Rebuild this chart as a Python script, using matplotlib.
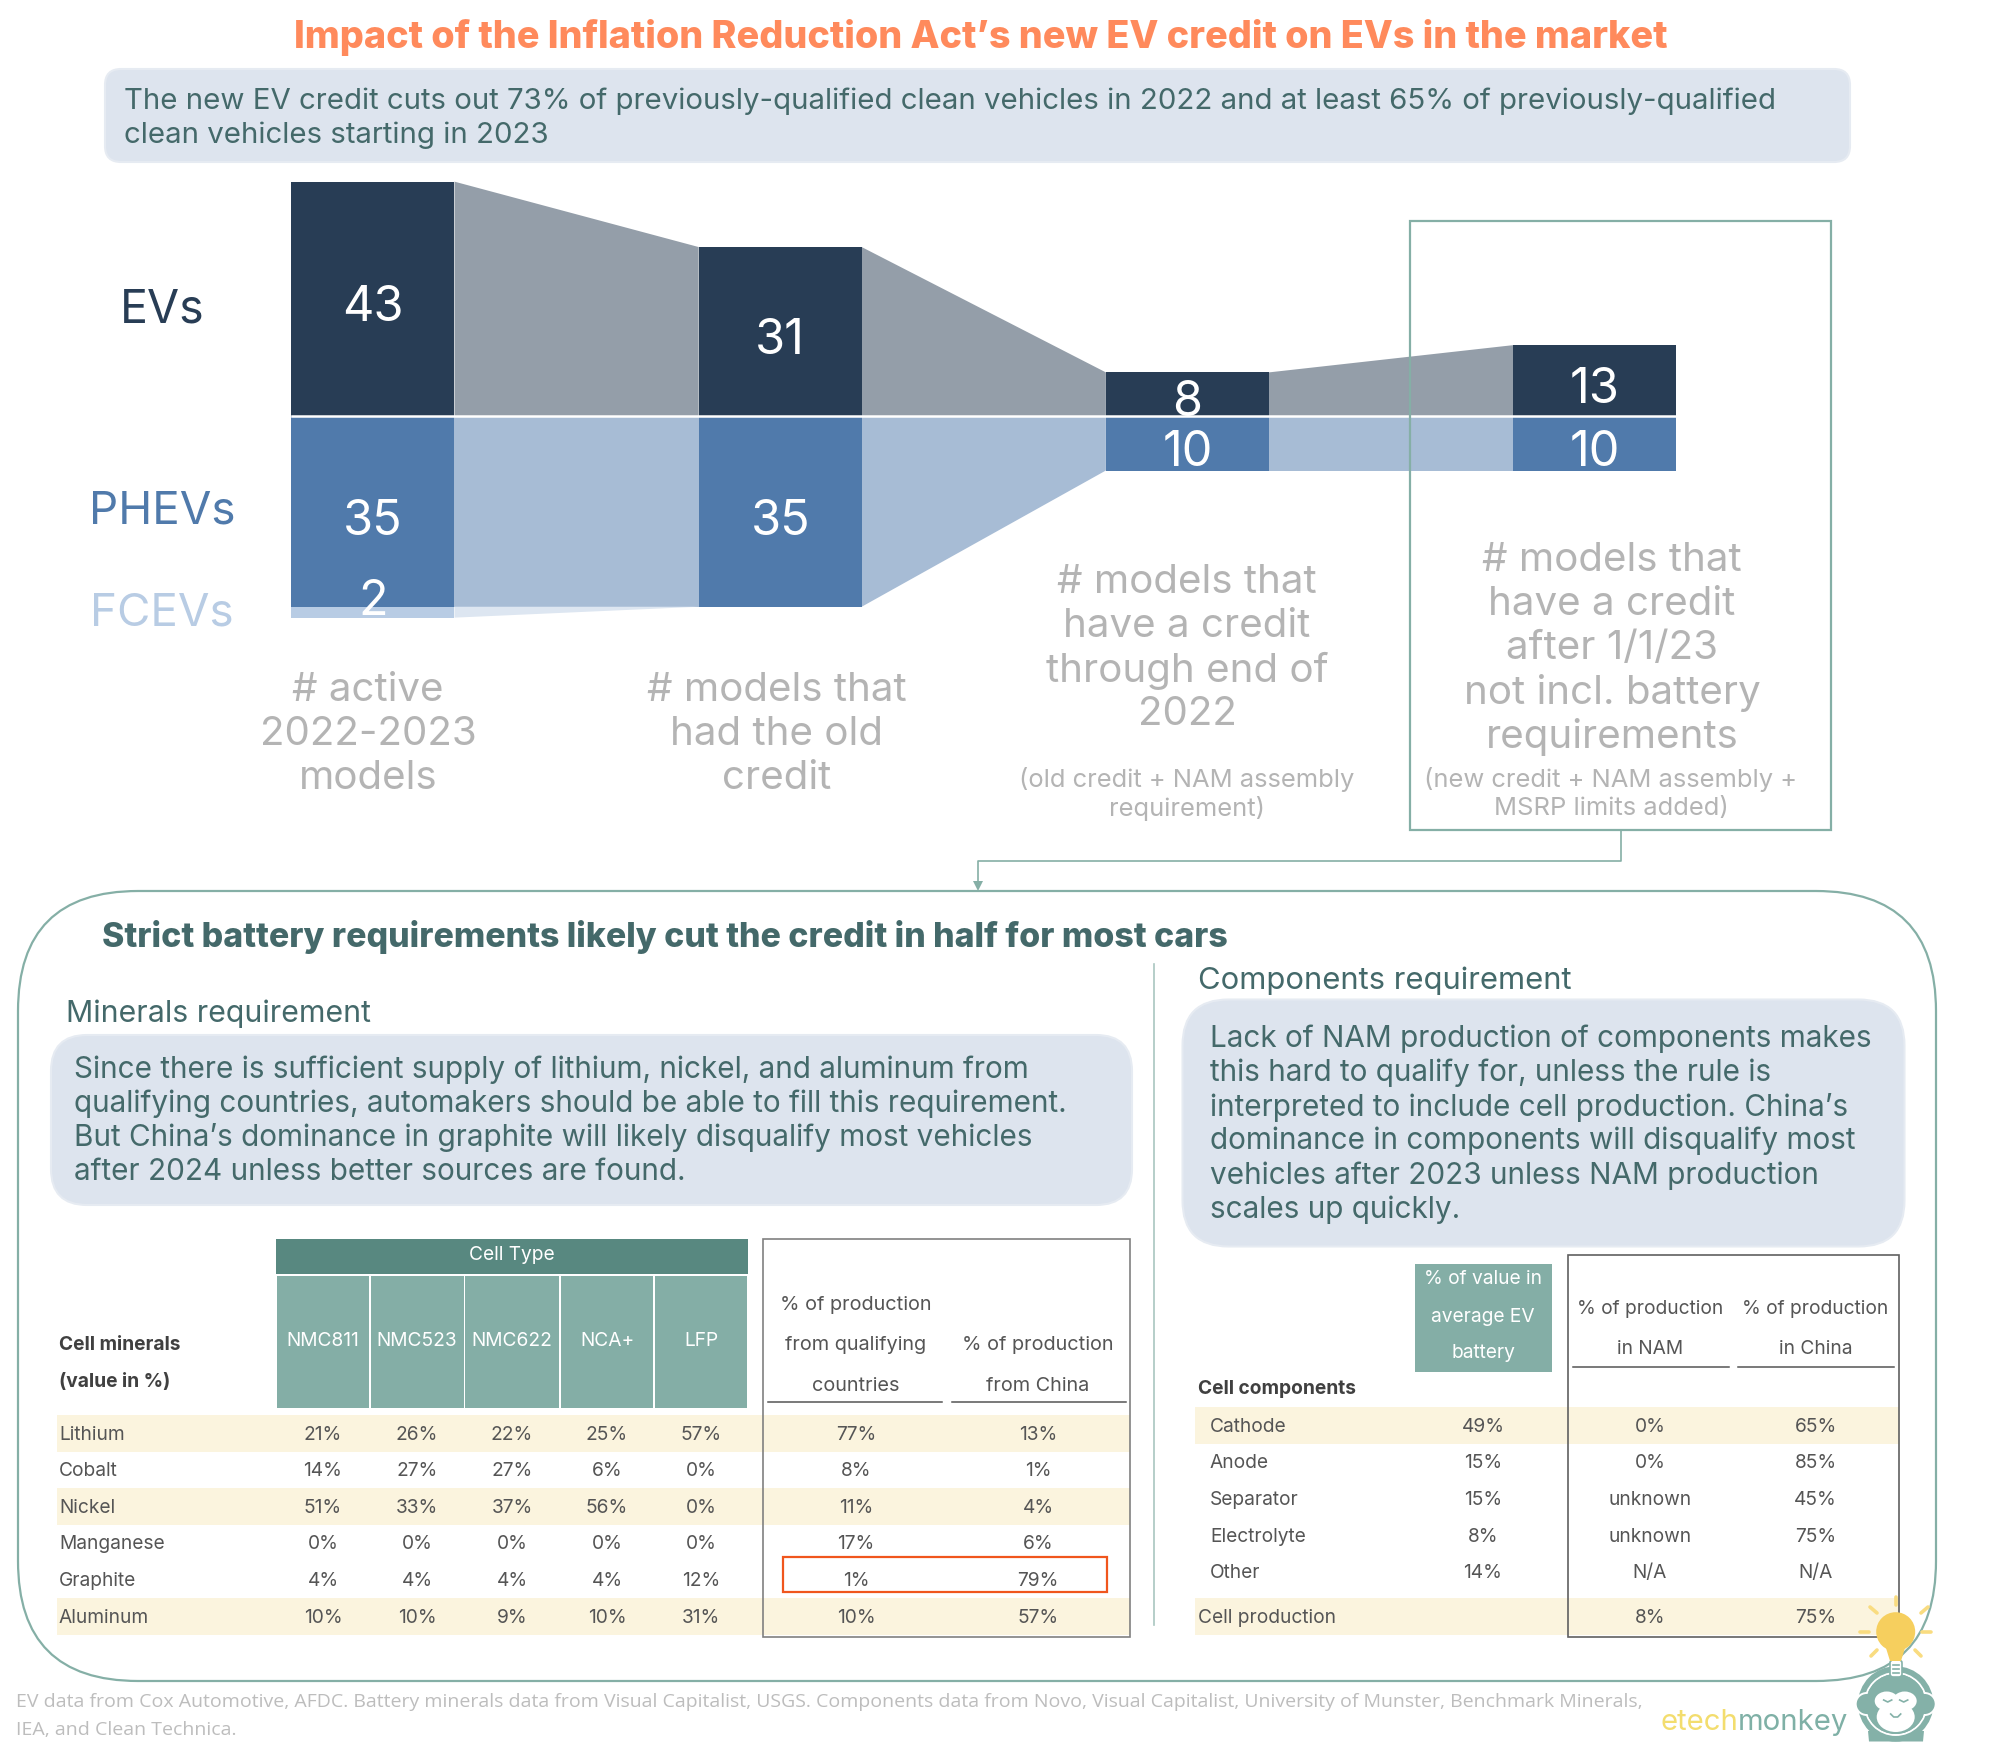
import matplotlib
matplotlib.use("Agg")
import matplotlib.pyplot as plt
from matplotlib.patches import FancyBboxPatch, Rectangle, Circle, Ellipse, Polygon

# ---------- data ----------
stages = ["# active\n2022-2023\nmodels", "# models that\nhad the old\ncredit",
          "# models that\nhave a credit\nthrough end of\n2022",
          "# models that\nhave a credit\nafter 1/1/23\nnot incl. battery\nrequirements"]
stage_notes = ["", "", "(old credit + NAM assembly\nrequirement)", "(new credit + NAM assembly +\nMSRP limits added)"]
ev_counts = [43, 31, 8, 13]
phev_counts = [35, 35, 10, 10]
fcev_counts = [2, 0, 0, 0]
cell_types = ["NMC811", "NMC523", "NMC622", "NCA+", "LFP"]
minerals = ["Lithium", "Cobalt", "Nickel", "Manganese", "Graphite", "Aluminum"]
nmc811 = ["21%", "14%", "51%", "0%", "4%", "10%"]
nmc523 = ["26%", "27%", "33%", "0%", "4%", "10%"]
nmc622 = ["22%", "27%", "37%", "0%", "4%", "9%"]
ncaplus = ["25%", "6%", "56%", "0%", "4%", "10%"]
lfp = ["57%", "0%", "0%", "0%", "12%", "31%"]
qualifying = ["77%", "8%", "11%", "17%", "1%", "10%"]
from_china = ["13%", "1%", "4%", "6%", "79%", "57%"]
components = ["Cathode", "Anode", "Separator", "Electrolyte", "Other", "Cell production"]
value_share = ["49%", "15%", "15%", "8%", "14%", ""]
in_nam = ["0%", "0%", "unknown", "unknown", "N/A", "8%"]
in_china = ["65%", "85%", "45%", "75%", "N/A", "75%"]

# ---------- colours ----------
ORANGE = "#FF8A5C"; TEAL = "#44696A"; BOX = "#DDE4EE"; DARK = "#283D55"; BLUE = "#507AAB"
FLOW_D = "#949EA9"; FLOW_B = "#A7BCD5"; FCEV = "#B8CCE4"; GREY = "#B4B4B4"; FRAME = "#85AFA6"
HEAD_D = "#588880"; HEAD_L = "#84AEA6"; BAND = "#FBF4DE"; TXT = "#555555"; RED = "#F0561D"
FOOT = "#BDBDBD"; YEL = "#F6CF5E"; RAY = "#F9DC80"; LOGO = "#84B1A8"
FONT = "Inter"

W, H = 2000, 1756
fig = plt.figure(figsize=(W / 100, H / 100), dpi=100, facecolor="white")
bg = fig.add_axes([0, 0, 1, 1]); bg.set_xlim(0, W); bg.set_ylim(H - 1, -1); bg.axis("off"); bg.set_zorder(2)

def T(x, y, s, size, color=TEAL, ha="left", weight="normal", family=FONT, z=5):
    return bg.text(x, y + 0.5, s, fontsize=size, color=color, ha=ha, va="center", fontweight=weight,
                   family=family, zorder=z)

def RB(x0, y0, x1, y1, r, fc, ec="none", lw=1.0, z=1):
    bg.add_patch(FancyBboxPatch((x0 + r, y0 + r), x1 - x0 - 2 * r, y1 - y0 - 2 * r,
                                boxstyle=f"round,pad={r},rounding_size={r}", fc=fc, ec=ec, lw=lw, zorder=z))

def R(x0, y0, x1, y1, fc="none", ec="none", lw=1.0, z=2):
    bg.add_patch(Rectangle((x0, y0), x1 - x0, y1 - y0, fc=fc, ec=ec, lw=lw, zorder=z))

# ---------- header ----------
T(981, 36, "Impact of the Inflation Reduction Act’s new EV credit on EVs in the market", 27.2, ORANGE, "center", 800)
RB(105, 69, 1850, 162, 16, BOX, "#E6EBF2", 1.5)
T(124, 100, "The new EV credit cuts out 73% of previously-qualified clean vehicles in 2022 and at least 65% of previously-qualified", 21.2)
T(124, 134, "clean vehicles starting in 2023", 21.2)

# ---------- funnel (own axes, in model counts) ----------
UNIT = 5.45                       # px per model
base_y, left_px, step_px, bar_px = 417, 373, 407.2, 163
top_c, bot_c = base_y / UNIT, (H - base_y) / UNIT
fx = fig.add_axes([0, 0, 1, 1]); fx.axis("off"); fx.patch.set_alpha(0); fx.set_zorder(1)
fx.set_xlim(-left_px / step_px, (W - left_px) / step_px)
fx.set_ylim(-bot_c, top_c)
bw = bar_px / step_px
xs = list(range(len(stages)))
phev_fc = [p + f for p, f in zip(phev_counts, fcev_counts)]
for i in xs[:-1]:
    xa, xb = i + bw / 2, i + 1 - bw / 2
    fx.fill([xa, xb, xb, xa], [ev_counts[i], ev_counts[i + 1], 0, 0], color=FLOW_D, lw=0, zorder=1)
    fx.fill([xa, xb, xb, xa], [0, 0, -phev_counts[i + 1], -phev_counts[i]], color=FLOW_B, lw=0, zorder=1)
fx.fill([bw / 2, 1 - bw / 2, bw / 2], [-phev_counts[0], -phev_counts[1], -phev_fc[0]], color="#DDE6F1", lw=0, zorder=1)
fx.bar(xs, ev_counts, bw, color=DARK, zorder=2)
fx.bar(xs, [-p for p in phev_counts], bw, color=BLUE, zorder=2)
fx.bar(xs, [-f for f in fcev_counts], bw, bottom=[-p for p in phev_counts], color=FCEV, zorder=2)
fx.axhline(0, color="white", lw=1.8, zorder=3, xmin=(left_px - bar_px / 2) / W, xmax=(left_px + 3 * step_px + bar_px / 2) / W)
V = 35
val_y = [(306, 520), (339, 520), (401, 451), (388, 451)]
for i in xs:
    cx = left_px + i * step_px
    T(cx, val_y[i][0], str(ev_counts[i]), V, "white", "center", z=8)
    T(cx, val_y[i][1], str(phev_counts[i]), V, "white", "center", z=8)
T(left_px, 600, str(fcev_counts[0]), V, "white", "center", z=8)

T(162, 309, "EVs", 33.5, DARK, "center")
T(162, 510, "PHEVs", 33, BLUE, "center")
T(162, 612, "FCEVs", 33, FCEV, "center")

lab_pos = [(368, [689, 733, 777]), (777, [689, 733, 777]), (1187, [581, 625, 669, 713]),
           (1612, [559, 603, 647, 691, 735])]
for (cx, ys), s in zip(lab_pos, stages):
    for y, line in zip(ys, s.split("\n")):
        T(cx, y, line, 29, GREY, "center")
for cx, s in zip([1187, 1611], stage_notes[2:]):
    for y, line in zip([778, 807], s.split("\n")):
        T(cx, y, line, 18.4, GREY, "center")

R(1409.5, 220.5, 1831, 830, ec=FRAME, lw=1.6, z=9)
bg.plot([1621, 1621, 978, 978], [830, 861, 861, 882], color=FRAME, lw=1.2, zorder=3)
bg.add_patch(Polygon([(973, 881), (983, 881), (978, 891)], fc=FRAME, ec="none", zorder=3))

# ---------- lower panel ----------
RB(18, 891, 1936, 1681, 120, "none", FRAME, 1.6, z=1)
T(102, 936, "Strict battery requirements likely cut the credit in half for most cars", 24.4, TEAL, "left", 800)
bg.plot([1154, 1154], [964, 1625], color="#A9C6C0", lw=1.2, zorder=2)

T(66, 1012, "Minerals requirement", 21.8)
RB(51, 1035, 1132, 1205, 36, BOX, "#E6EBF2", 1.5)
for y, line in zip([1068.5, 1102.5, 1136.5, 1171], [
    "Since there is sufficient supply of lithium, nickel, and aluminum from",
    "qualifying countries, automakers should be able to fill this requirement.",
    "But China’s dominance in graphite will likely disqualify most vehicles",
    "after 2024 unless better sources are found."]):
    T(74.5, y, line, 21.4)

T(1197.5, 979.5, "Components requirement", 22.3)
RB(1182.5, 999.5, 1904.5, 1246.5, 46, BOX, "#E6EBF2", 1.5)
for y, line in zip([1037.5, 1071.5, 1105.5, 1139.5, 1174.5, 1208.5], [
    "Lack of NAM production of components makes", "this hard to qualify for, unless the rule is",
    "interpreted to include cell production. China’s", "dominance in components will disqualify most",
    "vehicles after 2023 unless NAM production", "scales up quickly."]):
    T(1210, y, line, 21.4)

# minerals table
S = 13.8
row_y = [1433, 1469.5, 1506.2, 1543, 1579.5, 1616.2]
col_x = [323, 417, 512, 607, 701]
col_edges = [276, 370, 464.5, 560, 654, 748]
for i in (0, 2, 5):
    R(57, row_y[i] - 18.5, 1130, row_y[i] + 18.5, BAND, z=1)
R(276, 1239, 748, 1274, HEAD_D)
T(512, 1254, "Cell Type", S, "white", "center", z=5)
for k, ct in enumerate(cell_types):
    R(col_edges[k] + 0.7, 1276, col_edges[k + 1] - 0.7, 1408, HEAD_L)
    T(col_x[k], 1339, ct, S, "white", "center")
T(59, 1344, "Cell minerals", S, "#404040", weight="bold")
T(59, 1380, "(value in %)", S, "#404040", weight="bold")
for i, m in enumerate(minerals):
    T(59, row_y[i], m, S, TXT)
    for k, colv in enumerate([nmc811, nmc523, nmc622, ncaplus, lfp]):
        T(col_x[k], row_y[i], colv[i], S, TXT, "center")
    T(856, row_y[i], qualifying[i], S, TXT, "center")
    T(1038, row_y[i], from_china[i], S, TXT, "center")
R(763, 1239, 1130, 1636.5, ec="#808080", lw=1.2, z=3)
for y, line in zip([1304, 1344, 1384.5], ["% of production", "from qualifying", "countries"]):
    T(856, y, line, 14.3, TXT, "center")
for y, line in zip([1344, 1384.5], ["% of production", "from China"]):
    T(1038, y, line, 14.3, TXT, "center")
bg.plot([768, 941.5], [1402, 1402], color="#555555", lw=1.1, zorder=3)
bg.plot([952, 1126], [1402, 1402], color="#555555", lw=1.1, zorder=3)
R(783, 1556.5, 1106.5, 1592, ec=RED, lw=1.6, z=4)

# components table
row2 = [1425.5, 1462, 1498.9, 1535.2, 1571.5, 1616.2]
for i in (0, 5):
    R(1195, row2[i] - 18.5, 1899, row2[i] + 18.5, BAND, z=1)
R(1414.5, 1264, 1552, 1372, HEAD_L)
for y, line in zip([1278, 1315, 1352], ["% of value in", "average EV", "battery"]):
    T(1483, y, line, S, "white", "center")
R(1567.5, 1255, 1898.5, 1636.5, ec="#606060", lw=1.2, z=3)
for y, l1 in zip([1308, 1348], ["% of production", "in NAM"]):
    T(1650, y, l1, S, TXT, "center")
for y, l1 in zip([1308, 1348], ["% of production", "in China"]):
    T(1815.6, y, l1, S, TXT, "center")
bg.plot([1573, 1729], [1366.5, 1366.5], color="#555555", lw=1.1, zorder=3)
bg.plot([1738, 1894], [1366.5, 1366.5], color="#555555", lw=1.1, zorder=3)
T(1198.5, 1388, "Cell components", S, "#404040", weight="bold")
for i, c in enumerate(components):
    T(1210 if i < 5 else 1198.5, row2[i], c, S, TXT)
    T(1483, row2[i], value_share[i], S, TXT, "center")
    T(1650, row2[i], in_nam[i], S, TXT, "center")
    T(1815.6, row2[i], in_china[i], S, TXT, "center")

# footer
T(15.5, 1701, "EV data from Cox Automotive, AFDC. Battery minerals data from Visual Capitalist, USGS. Components data from Novo, Visual Capitalist, University of Munster, Benchmark Minerals,", 14.0, FOOT, family="Open Sans")
T(15.5, 1729, "IEA, and Clean Technica.", 14.0, FOOT, family="Open Sans")

# ---------- logo ----------
t1 = T(1660, 1721, "etech", 21.1, "#F3DD6E")
fig.canvas.draw()
ext = t1.get_window_extent().transformed(bg.transData.inverted())
T(ext.x1, 1721, "monkey", 21.1, "#7FB0A6")
Z = 12
lx, ly = 1895.7, 1704
bg.add_patch(Polygon([(1868, 1731), (1924, 1731), (1923, 1741.5), (1869, 1741.5)], fc=LOGO, ec="none", zorder=Z))
bg.add_patch(Circle((lx, ly), 37.7, fc=LOGO, ec="none", zorder=Z))
bg.add_patch(Circle((lx, ly), 31, fc="none", ec="white", lw=1.4, zorder=Z + 1))
for ex in (-29, 29):
    bg.add_patch(Circle((lx + ex, ly), 11, fc=LOGO, ec="white", lw=1.4, zorder=Z + 1))
bg.add_patch(Circle((lx, ly), 30, fc=LOGO, ec="none", zorder=Z + 1))
bg.add_patch(Ellipse((lx - 9, ly - 3), 24, 19, fc="white", ec="none", zorder=Z + 2))
bg.add_patch(Ellipse((lx + 9, ly - 3), 24, 19, fc="white", ec="none", zorder=Z + 2))
bg.add_patch(Ellipse((lx, ly + 13), 38, 30, fc="white", ec="none", zorder=Z + 2))
for ex in (-8, 8):
    bg.plot([lx + ex - 4, lx + ex, lx + ex + 4], [ly - 4, ly - 2, ly - 4], color=LOGO, lw=1.2, zorder=Z + 3)
bg.plot([lx - 5, lx - 2, lx + 2, lx + 5], [ly + 10, ly + 13, ly + 13, ly + 10], color=LOGO, lw=1.2, zorder=Z + 3)
# bulb
RB(1890, 1660, 1902, 1677, 3, "white", LOGO, 1.2, z=Z + 4)
for yy in (1665, 1669, 1673):
    bg.plot([1893, 1899], [yy, yy], color=LOGO, lw=1.2, zorder=Z + 5)
bg.add_patch(Polygon([(1886, 1648), (1905, 1648), (1901, 1661), (1890, 1661)], fc=YEL, ec="none", zorder=Z + 4))
bg.add_patch(Circle((1895.7, 1631.7), 19.5, fc=YEL, ec="none", zorder=Z + 4))
rays = [(1895.7, 1597, 1895.7, 1605), (1870, 1607, 1877, 1613), (1921, 1613, 1928, 1607), (1860, 1631.7, 1869, 1631.7),
        (1922, 1631.7, 1931, 1631.7), (1871, 1656, 1877, 1650), (1915, 1650, 1921, 1656)]
for x0, y0, x1, y1 in rays:
    bg.plot([x0, x1], [y0, y1], color=RAY, lw=2.6, solid_capstyle="round", zorder=Z + 4)

fig.savefig("out.png", dpi=100, facecolor="white")
